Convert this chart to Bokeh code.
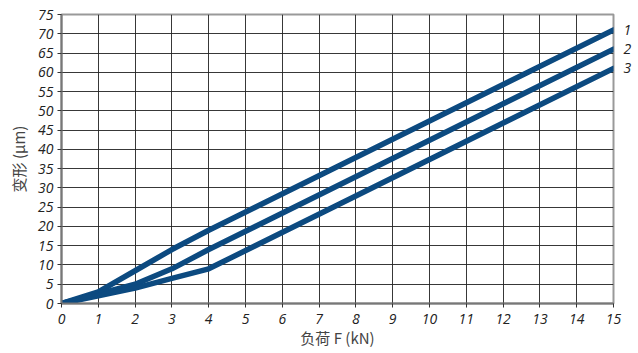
from bokeh.plotting import figure
from bokeh.models import FixedTicker, Range1d, LinearAxis
from bokeh.embed import file_html
from bokeh.resources import INLINE

# data
load_kn = [0, 1, 2, 3, 4, 15]
curve1 = [0, 3, 8.5, 14, 19, 71]
curve2 = [0, 2.5, 5, 9, 14, 66]
curve3 = [0, 2, 4, 6.5, 9, 61]
curve_names = ["1", "2", "3"]
x_ticks = list(range(0, 16))
y_ticks = list(range(0, 80, 5))

line_color = "#0c4a80"

p = figure(width=638, height=353, output_backend="svg", toolbar_location=None,
           x_range=Range1d(0, 15), y_range=Range1d(0, 75),
           min_border_left=61, min_border_right=25, min_border_top=14, min_border_bottom=50)
p.background_fill_color = "white"
p.border_fill_color = "white"
p.outline_line_color = "#999999"
p.outline_line_width = 2

curves = (curve1, curve2, curve3)
for ys in curves:
    p.line(load_kn, ys, line_color=line_color, line_width=5.5, line_cap="round", line_join="round")

# curve names placed at the right edge, at each curve's end value
end_vals = [ys[-1] for ys in curves]
name_axis = LinearAxis(ticker=FixedTicker(ticks=end_vals),
                       major_label_overrides={v: n for v, n in zip(end_vals, curve_names)})
name_axis.axis_line_color = None
name_axis.major_tick_line_color = None
name_axis.minor_tick_line_color = None
name_axis.major_label_standoff = 4
name_axis.major_label_text_font = "Open Sans"
name_axis.major_label_text_font_style = "italic"
name_axis.major_label_text_font_size = "14px"
name_axis.major_label_text_color = "#222222"
p.add_layout(name_axis, "right")

p.xaxis[0].ticker = FixedTicker(ticks=x_ticks)
p.yaxis[0].ticker = FixedTicker(ticks=y_ticks)
p.xgrid.ticker = FixedTicker(ticks=x_ticks)
p.ygrid.ticker = FixedTicker(ticks=y_ticks)
for g in (p.xgrid, p.ygrid):
    g.grid_line_color = "#222222"
    g.grid_line_width = 1
    g.grid_line_alpha = 0.9

for ax in (p.xaxis[0], p.yaxis[0]):
    ax.axis_line_color = "#777777"
    ax.axis_line_width = 2
    ax.major_tick_line_color = "#333333"
    ax.major_tick_in = 0
    ax.major_tick_out = 4
    ax.minor_tick_line_color = None
    ax.major_label_text_font = "Open Sans"
    ax.major_label_text_font_style = "italic"
    ax.major_label_text_font_size = "14px"
    ax.major_label_text_color = "#222222"
    ax.axis_label_text_font = "Noto Sans CJK SC"
    ax.axis_label_text_font_style = "normal"
    ax.axis_label_text_font_size = "15px"
    ax.axis_label_text_color = "#444444"

p.xaxis[0].axis_label = "负荷 F (kN)"
p.yaxis[0].axis_label = "变形 (μm)"
p.xaxis[0].major_label_standoff = 6
p.yaxis[0].major_label_standoff = 4
p.xaxis[0].axis_label_standoff = 0
p.yaxis[0].axis_label_standoff = 6

open("out.html", "w").write(file_html(p, INLINE))
